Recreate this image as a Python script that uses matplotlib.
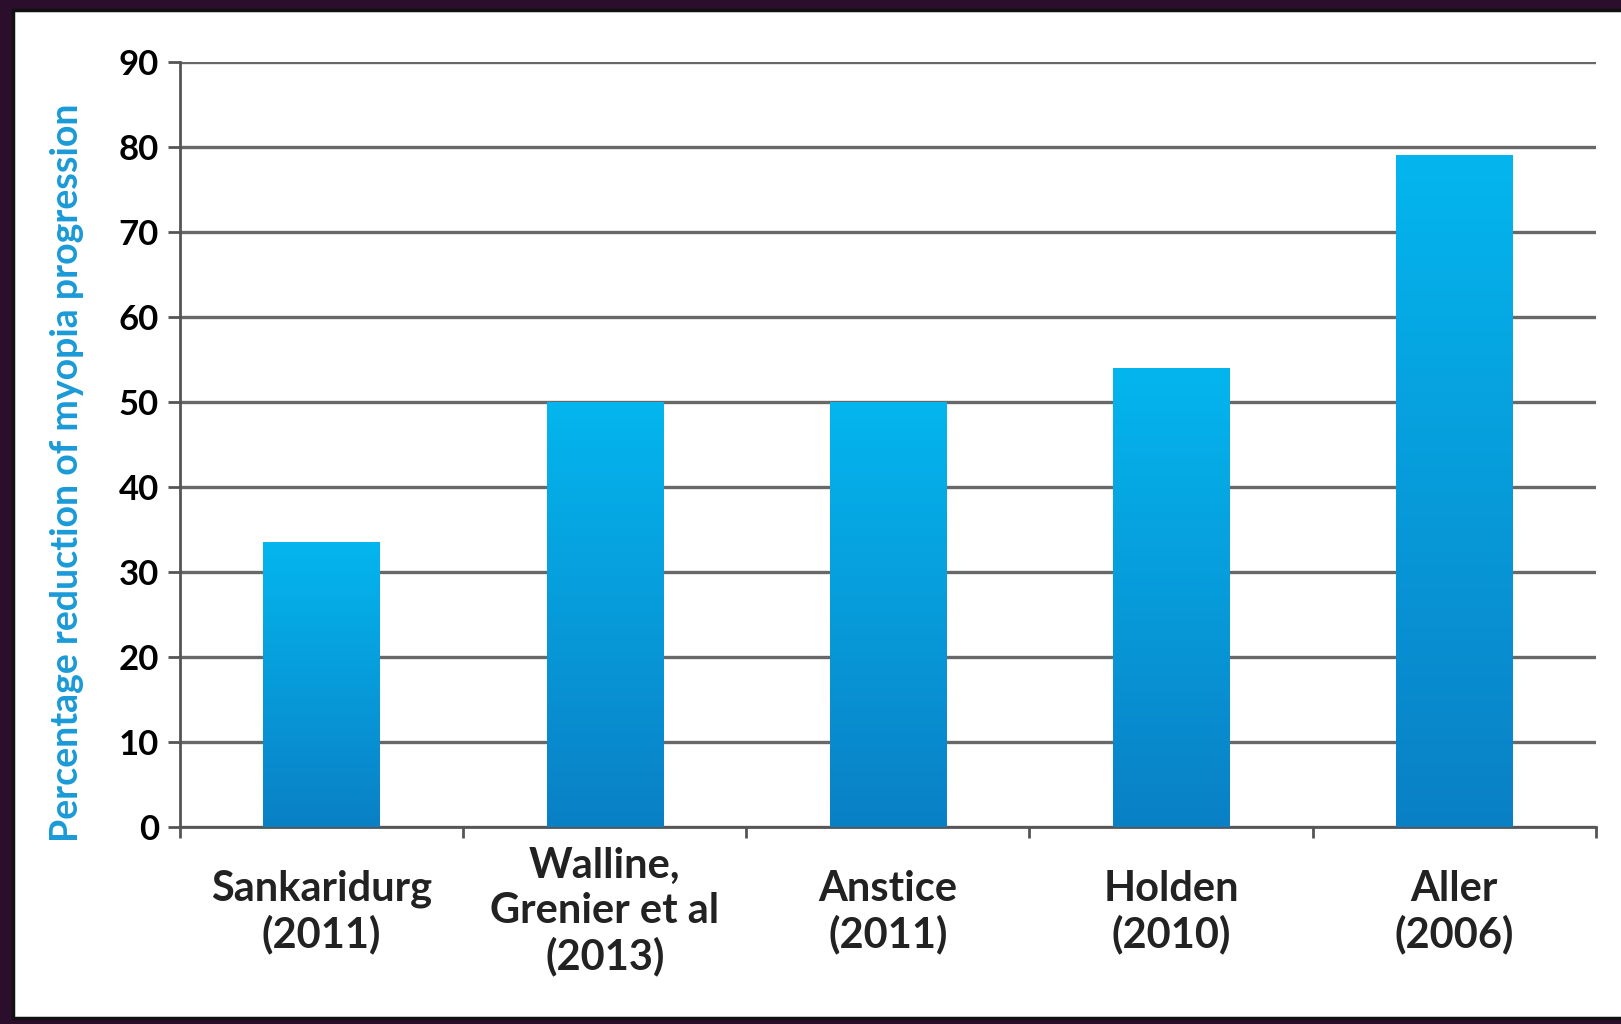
import matplotlib
matplotlib.use("Agg")
import matplotlib.pyplot as plt
import numpy as np
from matplotlib.colors import LinearSegmentedColormap
from matplotlib.patches import Rectangle

# data
studies = ["Sankaridurg\n(2011)", "Walline,\nGrenier et al\n(2013)", "Anstice\n(2011)",
           "Holden\n(2010)", "Aller\n(2006)"]
reduction = [33.5, 50, 50, 54, 79]
yticks = [0, 10, 20, 30, 40, 50, 60, 70, 80, 90]
ylabel = "Percentage reduction of myopia progression"

plt.rcParams["font.family"] = ["Lato", "DejaVu Sans"]

fig = plt.figure(figsize=(16.21, 10.24), dpi=100)
fig.patch.set_facecolor("#2b0e2b")
# white card with dark rim, behind the axes
fig.patches.append(Rectangle((0.008, 0.006), 1.0, 0.984, transform=fig.transFigure,
                             facecolor="white", edgecolor="#111111", linewidth=2.5, zorder=-1))

ax = fig.add_axes([0.111, 0.1924, 0.8735, 0.7471])
ax.set_facecolor("none")

x = np.arange(len(studies))
bars = ax.bar(x, reduction, width=0.41, color="#0a9ee0", zorder=2)

# vertical blue gradient inside each bar
cmap = LinearSegmentedColormap.from_list("blue", ["#0a80c6", "#04b6ee"])
grad = np.linspace(0, 1, 256).reshape(-1, 1)
for b in bars:
    x0, w, h = b.get_x(), b.get_width(), b.get_height()
    im = ax.imshow(grad, cmap=cmap, origin="lower", aspect="auto",
                   extent=(x0, x0 + w, 0, h), zorder=3)
    im.set_clip_path(b)

ax.set_xlim(-0.5, len(studies) - 0.5)
ax.set_ylim(0, 90)
ax.set_yticks(yticks)
ax.set_yticklabels([str(v) for v in yticks], fontsize=25, fontweight="bold")
ax.yaxis.grid(True, color="#686868", linewidth=2.4)
ax.set_axisbelow(True)

# ticks on category boundaries, labels at centres
ax.set_xticks(np.arange(-0.5, len(studies), 1.0))
ax.set_xticklabels([])
ax.set_xticks(x, labels=studies, minor=True)
ax.tick_params(axis="x", which="major", direction="out", length=8, width=2, color="#555555")
ax.tick_params(axis="x", which="minor", length=0, pad=61)
for lbl in ax.get_xticklabels(minor=True):
    lbl.set_fontsize(30)
    lbl.set_fontweight("bold")
    lbl.set_color("#222222")
    lbl.set_va("center")
    lbl.set_linespacing(1.2)
ax.tick_params(axis="y", direction="out", length=9, width=2, color="#555555", pad=6)

for s in ["top", "right"]:
    ax.spines[s].set_visible(False)
for s in ["left", "bottom"]:
    ax.spines[s].set_color("#555555")
    ax.spines[s].set_linewidth(2)

ax.set_ylabel(ylabel, fontsize=27, fontweight="bold", color="#1a9ad8")
ax.yaxis.set_label_coords(-0.068, 0.463)

fig.savefig("out.png", dpi=100, facecolor=fig.get_facecolor())
